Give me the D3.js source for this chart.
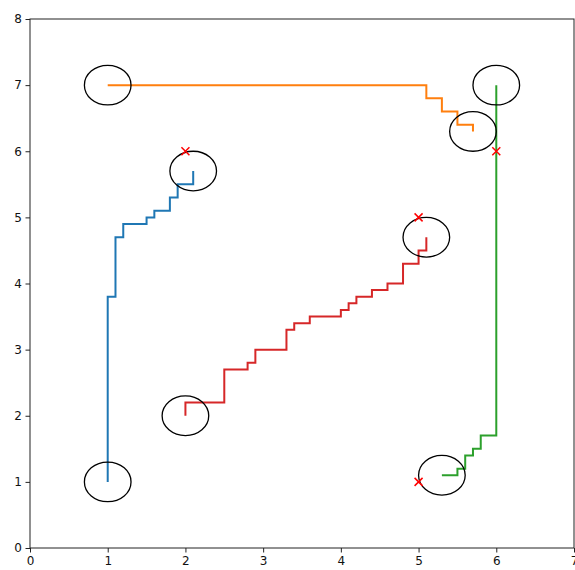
<!DOCTYPE html>
<html><head><meta charset="utf-8">
<script src="https://cdn.jsdelivr.net/npm/d3@7"></script>
<style>html,body{margin:0;padding:0;background:#fff;overflow:hidden}</style>
</head><body>
<script>
// Path vertices (data units)
const blueX = [1, 1, 1.1, 1.1, 1.2, 1.2, 1.5, 1.5, 1.6, 1.6, 1.8, 1.8, 1.9, 1.9, 2.1, 2.1];
const blueY = [1, 3.8, 3.8, 4.7, 4.7, 4.9, 4.9, 5.0, 5.0, 5.1, 5.1, 5.3, 5.3, 5.5, 5.5, 5.7];
const orangeX = [1, 5.1, 5.1, 5.3, 5.3, 5.5, 5.5, 5.7, 5.7];
const orangeY = [7, 7, 6.8, 6.8, 6.6, 6.6, 6.4, 6.4, 6.3];
const greenX = [5.3, 5.5, 5.5, 5.6, 5.6, 5.7, 5.7, 5.8, 5.8, 6.0, 6.0];
const greenY = [1.1, 1.1, 1.2, 1.2, 1.4, 1.4, 1.5, 1.5, 1.7, 1.7, 7.0];
const redX = [2, 2, 2.5, 2.5, 2.8, 2.8, 2.9, 2.9, 3.3, 3.3, 3.4, 3.4, 3.6, 3.6, 4.0, 4.0, 4.1, 4.1, 4.2, 4.2, 4.4, 4.4, 4.6, 4.6, 4.8, 4.8, 5.0, 5.0, 5.1, 5.1];
const redY = [2, 2.2, 2.2, 2.7, 2.7, 2.8, 2.8, 3.0, 3.0, 3.3, 3.3, 3.4, 3.4, 3.5, 3.5, 3.6, 3.6, 3.7, 3.7, 3.8, 3.8, 3.9, 3.9, 4.0, 4.0, 4.3, 4.3, 4.5, 4.5, 4.7];
const seriesColors = ["#1f77b4", "#ff7f0e", "#2ca02c", "#d62728"];
// Targets
const targetX = [2, 5, 6, 5];
const targetY = [6, 5, 6, 1];
const circleRadius = 0.3;
const xTicks = [0, 1, 2, 3, 4, 5, 6, 7];
const yTicks = [0, 1, 2, 3, 4, 5, 6, 7, 8];

const W = 575, H = 570;
const m = {left: 30, right: 574, top: 19, bottom: 548};
const svg = d3.select("body").append("svg").attr("width", W).attr("height", H);
const x = d3.scaleLinear().domain([0, 7]).range([m.left, m.right]);
const y = d3.scaleLinear().domain([0, 8]).range([m.bottom, m.top]);

const paths = [[blueX, blueY], [orangeX, orangeY], [greenX, greenY], [redX, redY]];
const line = d3.line().x(d => x(d[0])).y(d => y(d[1]));

paths.forEach((p, i) => {
  const pts = p[0].map((v, j) => [v, p[1][j]]);
  svg.append("path").attr("d", line(pts)).attr("fill", "none")
    .attr("stroke", seriesColors[i]).attr("stroke-width", 2).attr("stroke-linejoin", "miter");
});

// circles at start and end of each path
const ends = [];
paths.forEach(p => {
  ends.push([p[0][0], p[1][0]]);
  ends.push([p[0][p[0].length - 1], p[1][p[1].length - 1]]);
});
svg.selectAll("ellipse.c").data(ends).enter().append("ellipse")
  .attr("cx", d => x(d[0])).attr("cy", d => y(d[1]))
  .attr("rx", x(circleRadius) - x(0)).attr("ry", y(0) - y(circleRadius))
  .attr("fill", "none").attr("stroke", "#000").attr("stroke-width", 1.3);

// red x markers
const s = 4;
targetX.forEach((tx, i) => {
  const cx = x(tx), cy = y(targetY[i]);
  svg.append("path").attr("d", `M${cx - s},${cy - s}L${cx + s},${cy + s}M${cx - s},${cy + s}L${cx + s},${cy - s}`)
    .attr("stroke", "#ff0000").attr("stroke-width", 1.5).attr("fill", "none");
});

// axes
const xAxis = d3.axisBottom(x).tickValues(xTicks).tickFormat(d3.format("d")).tickSize(4.5).tickPadding(3.5);
const yAxis = d3.axisLeft(y).tickValues(yTicks).tickFormat(d3.format("d")).tickSize(4.5).tickPadding(3.5);
const gx = svg.append("g").attr("transform", `translate(0,${m.bottom})`).call(xAxis);
const gy = svg.append("g").attr("transform", `translate(${m.left},0)`).call(yAxis);
[gx, gy].forEach(g => {
  g.select(".domain").remove();
  g.selectAll("line").attr("stroke", "#222").attr("stroke-width", 1);
  g.selectAll("text").attr("font-family", "DejaVu Sans").attr("font-size", 12).attr("fill", "#111");
});
// frame
svg.append("rect").attr("x", m.left).attr("y", m.top).attr("width", m.right - m.left).attr("height", m.bottom - m.top)
  .attr("fill", "none").attr("stroke", "#222").attr("stroke-width", 1);
</script>
</body></html>
